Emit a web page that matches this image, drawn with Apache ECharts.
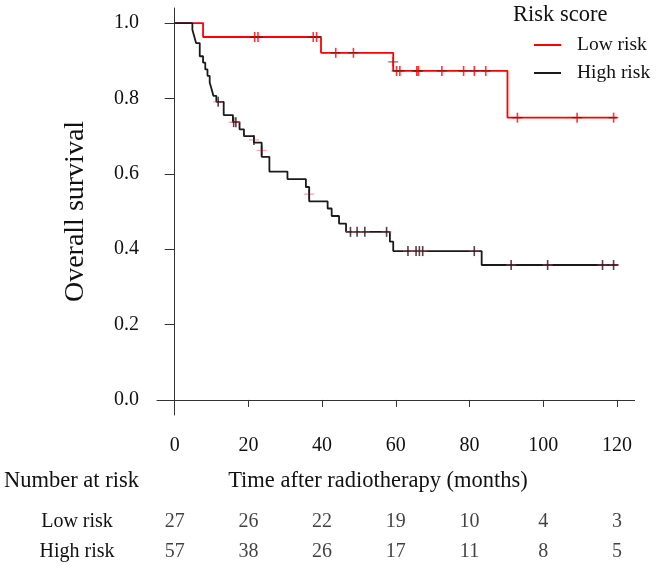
<!DOCTYPE html>
<html><head><meta charset="utf-8">
<script src="https://cdn.jsdelivr.net/npm/echarts@6/dist/echarts.min.js"></script>
<style>html,body{margin:0;padding:0;background:#fff;}#c{width:657px;height:572px;}</style>
</head><body><div id="c"></div>
<script>
// ---- data ----
const xTicks = [0, 20, 40, 60, 80, 100, 120];
const yTicks = [0, 0.2, 0.4, 0.6, 0.8, 1.0];
const groups = ['Low risk', 'High risk'];
// Kaplan-Meier step points [time, survival]
const lowRiskCurve = [[0,1.0],[7.7,0.963],[39.7,0.921],[59.3,0.873],[90.3,0.749],[120,0.749]];
const highRiskCurve = [[0,1.0],[4.8,0.982],[5.3,0.965],[5.8,0.947],[6.8,0.912],[7.7,0.895],[8.3,0.877],
  [8.9,0.860],[9.5,0.842],[10.0,0.825],[10.5,0.807],[11.3,0.791],[13.3,0.756],[15.8,0.737],[17.6,0.718],
  [18.8,0.700],[21.5,0.683],[23.6,0.645],[25.7,0.606],[30.6,0.586],[35.6,0.565],[36.5,0.527],[41.5,0.508],
  [42.6,0.488],[44.6,0.468],[46.5,0.446],[58.4,0.420],[59.3,0.395],[83.3,0.358],[120.4,0.358]];
// censor marks [time, survival]
const lowRiskCensor = [[21.7,0.963],[22.6,0.963],[37.6,0.963],[38.5,0.963],[43.7,0.921],[48.5,0.921],
  [59.3,0.897],[60.2,0.873],[61.1,0.873],[65.7,0.873],[66.1,0.873],[72.5,0.873],[78.4,0.873],[81.3,0.873],
  [84.4,0.873],[93.0,0.749],[109.2,0.749],[119.1,0.749]];
const highRiskCensor = [[11.8,0.791],[16.0,0.737],[16.6,0.737],[21.5,0.690],[23.6,0.662],[36.5,0.546],
  [47.7,0.446],[49.5,0.446],[51.6,0.446],[57.5,0.446],[63.3,0.395],[65.5,0.395],[66.4,0.395],[67.3,0.395],
  [81.3,0.395],[91.3,0.358],[101.2,0.358],[116.1,0.358],[119.1,0.358]];
const riskTimes = [0, 20, 40, 60, 80, 100, 120];
const lowRiskAtRisk = [27, 26, 22, 19, 10, 4, 3];
const highRiskAtRisk = [57, 38, 26, 17, 11, 8, 5];

// ---- chart ----
const FONT = '"Liberation Serif", "Times New Roman", serif';
const RED = '#ff0000', BLACK = '#1a1a1a', TXT = '#111';
const tableData = [];
riskTimes.forEach((t, i) => {
  tableData.push([t, groups[0], lowRiskAtRisk[i]]);
  tableData.push([t, groups[1], highRiskAtRisk[i]]);
});

const chart = echarts.init(document.getElementById('c'), null, {renderer: 'canvas'});
chart.setOption({
  animation: false,
  backgroundColor: '#fff',
  textStyle: {fontFamily: FONT, color: TXT},
  grid: [
    {left: 157, top: 8, width: 477.6, height: 407},
    {left: 157, top: 506, width: 477.6, height: 61}
  ],
  xAxis: [
    {type: 'value', gridIndex: 0, min: -4.8, max: 124.8,
     axisLine: {show: true, lineStyle: {color: '#333', width: 1}},
     axisTick: {show: true, customValues: xTicks, length: 7, lineStyle: {color: '#333'}},
     axisLabel: {customValues: xTicks, fontSize: 20, margin: 21, color: TXT, fontFamily: FONT},
     splitLine: {show: false}},
    {type: 'value', gridIndex: 1, min: -4.8, max: 124.8, show: false}
  ],
  yAxis: [
    {type: 'value', gridIndex: 0, min: -0.04, max: 1.04,
     name: 'Overall survival', nameLocation: 'middle', nameGap: 67,
     nameTextStyle: {fontSize: 28, color: TXT, fontFamily: FONT},
     axisLine: {show: true, lineStyle: {color: '#333', width: 1}},
     axisTick: {show: true, customValues: yTicks, length: 10, lineStyle: {color: '#333'}},
     axisLabel: {customValues: yTicks, fontSize: 20, margin: 18, color: TXT, fontFamily: FONT,
       formatter: v => Number(v).toFixed(1)},
     splitLine: {show: false}},
    {type: 'category', gridIndex: 1, data: groups, inverse: true,
     axisLine: {show: false}, axisTick: {show: false}, splitLine: {show: false},
     axisLabel: {fontSize: 20, align: 'center', margin: 80, color: TXT, fontFamily: FONT}}
  ],
  legend: {
    data: groups, orient: 'vertical', left: 529, top: 30,
    icon: 'rect', itemWidth: 27, itemHeight: 2, itemGap: 8,
    textStyle: {fontSize: 19.5, color: TXT, fontFamily: FONT, padding: [0, 0, 0, 11], lineHeight: 20}
  },
  graphic: [
    {type: 'text', left: 513, top: 4, style: {text: 'Risk score', font: '22.5px ' + FONT, fill: TXT}},
    {type: 'text', x: 378, y: 481, style: {text: 'Time after radiotherapy (months)', font: '22.5px ' + FONT, fill: TXT, align: 'center', verticalAlign: 'middle'}},
    {type: 'text', x: 4, y: 481, style: {text: 'Number at risk', font: '22.5px ' + FONT, fill: TXT, align: 'left', verticalAlign: 'middle'}}
  ],
  series: [
    {name: 'Low risk', type: 'line', xAxisIndex: 0, yAxisIndex: 0, step: 'end', symbol: 'none',
     color: RED, lineStyle: {color: RED, width: 1.8}, data: lowRiskCurve, z: 2},
    {name: 'High risk', type: 'line', xAxisIndex: 0, yAxisIndex: 0, step: 'end', symbol: 'none',
     color: BLACK, lineStyle: {color: BLACK, width: 1.8}, data: highRiskCurve, z: 3},
    {name: 'lowCensorH', type: 'scatter', xAxisIndex: 0, yAxisIndex: 0, symbol: 'rect', symbolSize: [10, 1.4],
     itemStyle: {color: 'rgba(40,40,40,0.75)'}, data: lowRiskCensor, z: 4, silent: true},
    {name: 'lowCensorV', type: 'scatter', xAxisIndex: 0, yAxisIndex: 0, symbol: 'rect', symbolSize: [1.6, 10],
     itemStyle: {color: RED}, data: lowRiskCensor, z: 5, silent: true},
    {name: 'highCensorH', type: 'scatter', xAxisIndex: 0, yAxisIndex: 0, symbol: 'rect', symbolSize: [10, 1.4],
     itemStyle: {color: 'rgba(255,70,90,0.6)'}, data: highRiskCensor, z: 4, silent: true},
    {name: 'highCensorV', type: 'scatter', xAxisIndex: 0, yAxisIndex: 0, symbol: 'rect', symbolSize: [1.6, 10],
     itemStyle: {color: BLACK}, data: highRiskCensor, z: 5, silent: true},
    {name: 'atRisk', type: 'scatter', xAxisIndex: 1, yAxisIndex: 1, symbolSize: 1,
     itemStyle: {color: 'rgba(0,0,0,0)'}, data: tableData, silent: true,
     label: {show: true, position: 'inside', formatter: p => String(p.value[2]), fontSize: 20, color: TXT, fontFamily: FONT}}
  ]
});
</script></body></html>
